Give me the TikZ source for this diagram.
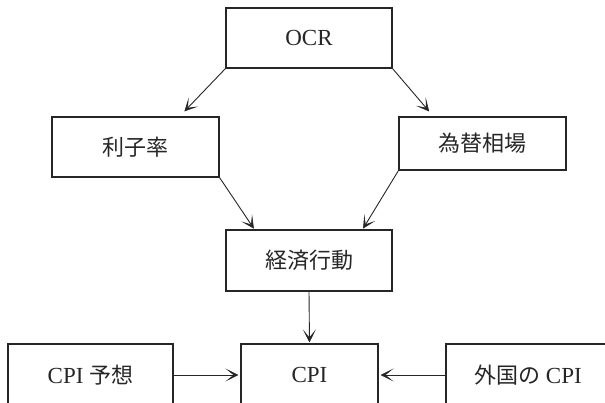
\documentclass[tikz,border=0pt]{standalone}
\usepackage{fontspec}
\setmainfont{Liberation Serif}
\newfontfamily\jp{Noto Sans CJK JP}
\usetikzlibrary{arrows.meta}
\definecolor{ink}{gray}{0.15}
\tikzset{
  box/.style={draw=ink, line width=1.1pt, rectangle, inner sep=0pt, text=ink,
    font=\fontsize{23}{26}\selectfont},
  jpfont/.style={},
  arr/.style={draw=ink, line width=0.9pt, -{Stealth[length=13pt,width=13pt,inset=8pt,line width=0.6pt]}}
}
\newcommand{\jpt}[1]{{\jp\fontsize{22}{26}\selectfont #1}}
\begin{document}
\begin{tikzpicture}[x=1pt,y=-1pt]
\useasboundingbox (0,0) rectangle (605,403);
\node[box, minimum width=166pt, minimum height=60pt] (ocr) at (309,38) {OCR};
\node[box, minimum width=167pt, minimum height=60pt] (rishi) at (135.5,147) {\jpt{利子率}};
\node[box, minimum width=167pt, minimum height=53pt] (kawase) at (482.5,143.5) {\jpt{為替相場}};
\node[box, minimum width=166pt, minimum height=61pt] (keizai) at (309,260.5) {\jpt{経済行動}};
\node[box, minimum width=165pt, minimum height=62pt] (yoso) at (90.5,375) {CPI \jpt{予想}};
\node[box, minimum width=137pt, minimum height=62pt] (cpi) at (309.5,375) {CPI};
\node[box, minimum width=164pt, minimum height=62pt] (gaikoku) at (528,375) {\jpt{外国の} CPI};
\draw[arr, shorten >=7pt] (ocr.south west) -- ([xshift=-40pt]rishi.north east);
\draw[arr, shorten >=6.6pt] (ocr.south east) -- ([xshift=35pt]kawase.north west);
\draw[arr, shorten >=1pt] (rishi.south east) -- ([xshift=29pt]keizai.north west);
\draw[arr, shorten >=1pt] (kawase.south west) -- ([xshift=-30pt]keizai.north east);
\draw[arr, shorten >=1pt] (keizai.south) -- (cpi.north);
\draw[arr, shorten >=2pt] (yoso.east) -- (cpi.west);
\draw[arr, shorten >=2pt] (gaikoku.west) -- (cpi.east);
\end{tikzpicture}
\end{document}
